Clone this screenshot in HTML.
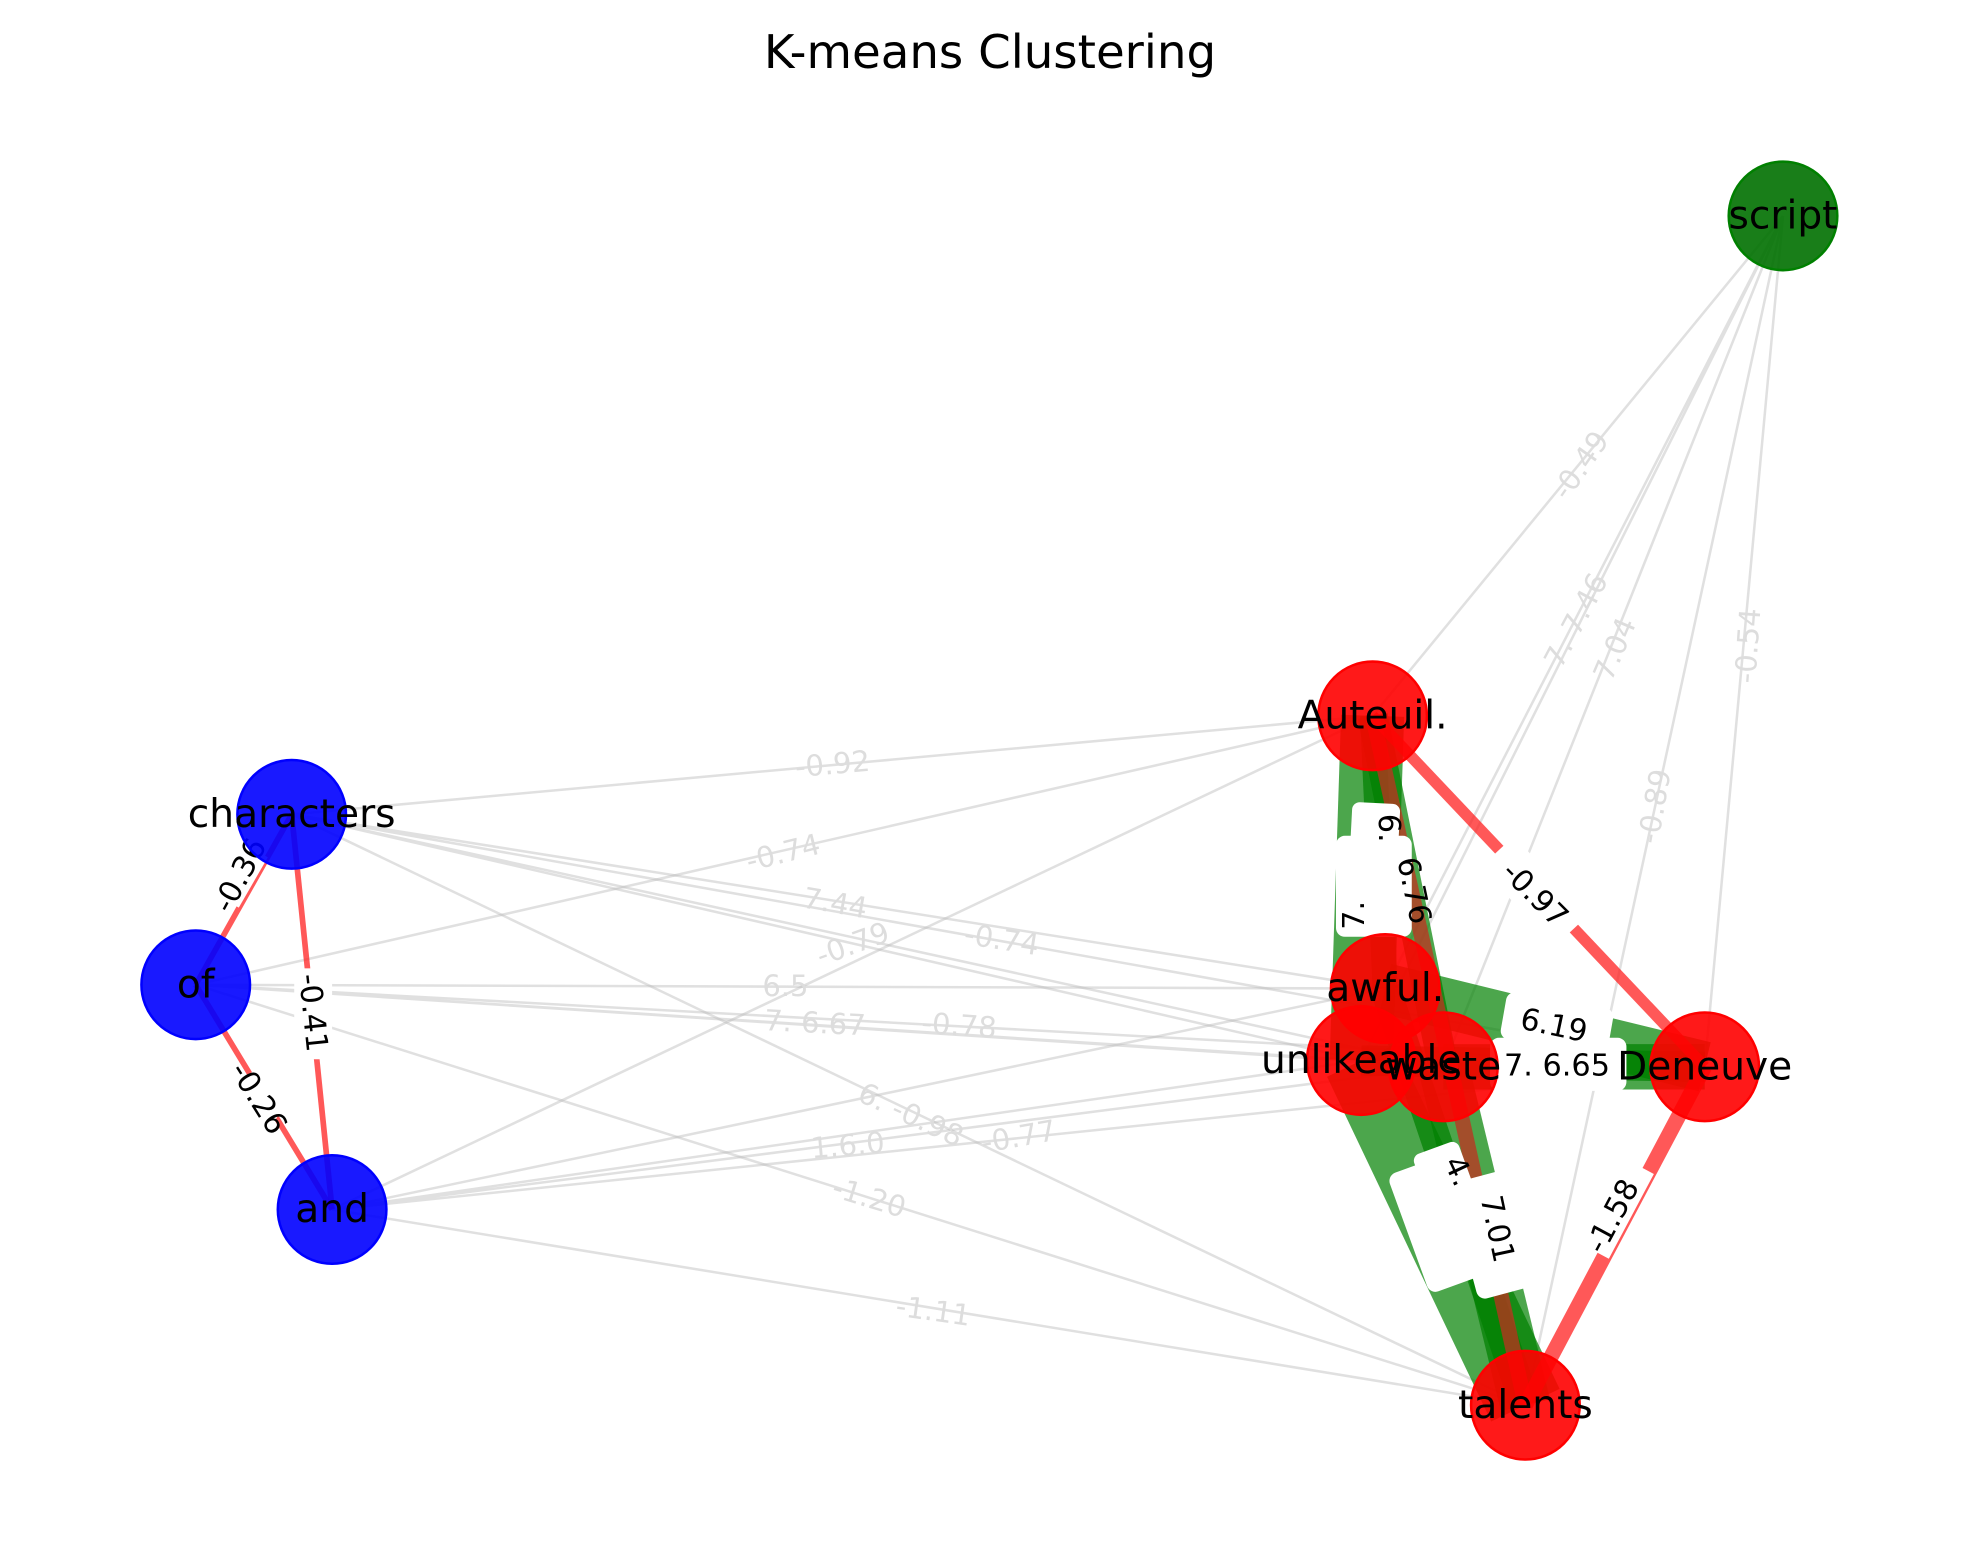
<!DOCTYPE html>
<html><head><meta charset="utf-8"><style>html,body{margin:0;padding:0;background:#fff}svg{display:block}text{font-family:"DejaVu Sans","Liberation Sans",sans-serif}</style></head>
<body>
<svg width="1980" height="1563" viewBox="0 0 1568 1238" preserveAspectRatio="none" xmlns="http://www.w3.org/2000/svg">
<rect width="1568" height="1238" fill="#fff"/>
<text x="784" y="54" font-size="37" text-anchor="middle">K-means Clustering</text>
<g stroke="#bbb" stroke-opacity="0.45" stroke-width="2" fill="none">
<path d="M231 645L1087 567M231 645L1097 783M231 645L1078 840M231 645L1143 845M231 645L1350 845M231 645L1208 1113"/>
<path d="M155 780L1087 567M155 780L1097 783M155 780L1078 840M155 780L1143 845M155 780L1350 845M155 780L1208 1113"/>
<path d="M263 958L1087 567M263 958L1097 783M263 958L1078 840M263 958L1143 845M263 958L1350 845M263 958L1208 1113"/>
<path d="M1412 171L1087 567M1412 171L1097 783M1412 171L1078 840M1412 171L1143 845M1412 171L1350 845M1412 171L1208 1113"/>
</g>
<g stroke="#008000" stroke-opacity="0.7" fill="none">
<path d="M1087 567L1078 840" stroke-width="50"/>
<path d="M1087 567L1143 845" stroke-width="24"/>
<path d="M1087 567L1097 783" stroke-width="20"/>
<path d="M1097 783L1350 845" stroke-width="40"/>
<path d="M1143 845L1350 845" stroke-width="36"/>
<path d="M1078 840L1350 845" stroke-width="24"/>
<path d="M1078 840L1208 1113" stroke-width="60"/>
<path d="M1143 845L1208 1113" stroke-width="40"/>
<path d="M1097 783L1208 1113" stroke-width="24"/>
</g>
<g stroke="#ff2020" stroke-opacity="0.75" fill="none">
<path d="M1087 567L1208 1113" stroke-width="12" stroke="#c03020"/>
<path d="M1087 567L1350 845" stroke-width="9"/>
<path d="M1350 845L1208 1113" stroke-width="12"/>
<path d="M231 645L263 958" stroke-width="4.5"/>
<path d="M231 645L155 780" stroke-width="4.5"/>
<path d="M155 780L263 958" stroke-width="4.5"/>
</g>
<g fill="#fff">
<rect x="1070" y="636" width="38" height="40" rx="6" transform="rotate(3 1088 656)"/>
<rect x="1058" y="662" width="60" height="80" rx="7"/>
<rect x="1190" y="792" width="86" height="38" rx="7" transform="rotate(10 1233 811)"/>
<rect x="1180" y="822" width="108" height="42" rx="7"/>
<rect x="1124" y="908" width="38" height="40" rx="6" transform="rotate(-20 1143 929)"/>
<rect x="1114" y="920" width="48" height="100" rx="7" transform="rotate(-20 1138 970)"/>
<rect x="1158" y="930" width="52" height="95" rx="7" transform="rotate(-15 1184 978)"/>
<rect x="1172" y="688" width="86" height="36" transform="rotate(47 1215 706)"/>
<rect x="1238" y="937" width="76" height="36" transform="rotate(-62 1276 955)"/>
<rect x="162" y="672" width="46" height="36" transform="rotate(-60 185 690)"/>
<rect x="233" y="767" width="30" height="72"/>
<rect x="182" y="856" width="46" height="36" transform="rotate(-58 205 874)"/>
</g>
<g font-size="24" fill="#000" text-anchor="middle">
<text transform="translate(1112 707) rotate(78)">6.76</text>
<text transform="translate(1092 656) rotate(90)">6.</text>
<text transform="translate(1080 725) rotate(-90)">7.</text>
<text transform="translate(1229 820) rotate(12)">6.19</text>
<text x="1233" y="852">7. 6.65</text>
<text transform="translate(1178 975) rotate(78)">7.01</text>
<text transform="translate(1148 931) rotate(65)">4.</text>
<text transform="translate(1210 714) rotate(45)">-0.97</text>
<text transform="translate(1284 967) rotate(-62)">-1.58</text>
<text transform="translate(197 697) rotate(-62)">-0.36</text>
<text transform="translate(240 803) rotate(84)">-0.41</text>
<text transform="translate(198 874) rotate(58)">-0.26</text>
</g>
<g font-size="23" fill="#ddd" text-anchor="middle">
<text transform="translate(660 613) rotate(-5)">-0.92</text>
<text transform="translate(622 683) rotate(-14)">-0.74</text>
<text transform="translate(660 723) rotate(10)">7.44</text>
<text transform="translate(792 752) rotate(9)">-0.74</text>
<text transform="translate(678 755) rotate(-20)">-0.79</text>
<text x="622" y="789">6.5</text>
<text transform="translate(645 818) rotate(3)">7. 6.67</text>
<text transform="translate(759 820) rotate(4)">-0.78</text>
<text transform="translate(718 890) rotate(25)">6. -0.98</text>
<text transform="translate(808 908) rotate(-10)">-0.77</text>
<text transform="translate(672 915) rotate(-5)">1.6.0</text>
<text transform="translate(686 956) rotate(17)">-1.20</text>
<text transform="translate(738 1046) rotate(8)">-1.11</text>
<text transform="translate(1258 373) rotate(-55)">-0.49</text>
<text transform="translate(1255 495) rotate(-62)">7. 7.46</text>
<text transform="translate(1286 517) rotate(-67)">7.04</text>
<text transform="translate(1318 640) rotate(-80)">-0.89</text>
<text transform="translate(1392 512) rotate(-86)">-0.54</text>
</g>
<g stroke-width="2">
<circle cx="231" cy="645" r="43" fill="#0000ff" fill-opacity="0.9" stroke="#0000ff"/>
<circle cx="155" cy="780" r="43" fill="#0000ff" fill-opacity="0.9" stroke="#0000ff"/>
<circle cx="263" cy="958" r="43" fill="#0000ff" fill-opacity="0.9" stroke="#0000ff"/>
<circle cx="1412" cy="171" r="43" fill="#007000" fill-opacity="0.9" stroke="#008000"/>
<circle cx="1087" cy="567" r="43" fill="#ff0000" fill-opacity="0.9" stroke="#ff0000"/>
<circle cx="1097" cy="783" r="43" fill="#ff0000" fill-opacity="0.9" stroke="#ff0000"/>
<circle cx="1078" cy="840" r="43" fill="#ff0000" fill-opacity="0.9" stroke="#ff0000"/>
<circle cx="1143" cy="845" r="43" fill="#ff0000" fill-opacity="0.9" stroke="#ff0000"/>
<circle cx="1350" cy="845" r="43" fill="#ff0000" fill-opacity="0.9" stroke="#ff0000"/>
<circle cx="1208" cy="1113" r="43" fill="#ff0000" fill-opacity="0.9" stroke="#ff0000"/>
</g>
<g font-size="31" fill="#000" text-anchor="middle">
<text x="231" y="655">characters</text>
<text x="155" y="790">of</text>
<text x="263" y="968">and</text>
<text x="1412" y="181">script</text>
<text x="1087" y="577">Auteuil.</text>
<text x="1097" y="793">awful.</text>
<text x="1078" y="850">unlikeable</text>
<text x="1143" y="855">waste</text>
<text x="1350" y="855">Deneuve</text>
<text x="1208" y="1123">talents</text>
</g>
</svg>
</body></html>
